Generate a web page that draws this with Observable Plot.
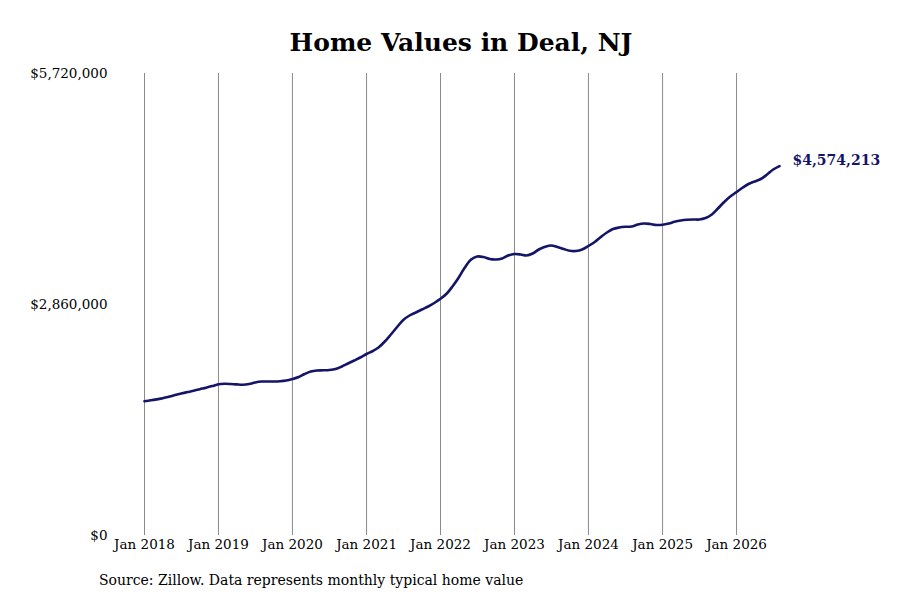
<!DOCTYPE html>
<html>
<head>
<meta charset="utf-8">
<script src="https://cdn.jsdelivr.net/npm/d3@7"></script>
<script src="https://cdn.jsdelivr.net/npm/@observablehq/plot@0.6"></script>
<style>
  body { margin: 0; background: #fff; width: 900px; height: 600px; overflow: hidden; font-family: "DejaVu Serif", serif; position: relative; }
  #title { height: 60px; text-align: center; font-weight: bold; font-size: 25px; color: #000; padding-top: 25px; padding-left: 22px; box-sizing: border-box; line-height: 36px; font-family: "DejaVu Serif", serif; }
  #chart { height: 510px; }
  #caption { position: absolute; left: 99px; top: 572px; font-size: 14px; color: #000; font-family: "DejaVu Serif", serif; }
</style>
</head>
<body>
<div id="title">Home Values in Deal, NJ</div>
<div id="chart"></div>
<div id="caption">Source: Zillow. Data represents monthly typical home value</div>
<script>
const startMonth = "2018-01";
const homeValues = [
  1662760, 1673900, 1685050, 1698670, 1718480, 1738290, 1756860, 1775430, 1792760, 1811330, 1829900, 1849710,
  1872000, 1878190, 1876000, 1870500, 1867000, 1875710, 1894290, 1906670, 1906670, 1906670, 1910380, 1919050,
  1937620, 1962380, 1999520, 2030480, 2042860, 2045330, 2049050, 2061430, 2092380, 2129520, 2166670, 2203810,
  2247140, 2284290, 2327620, 2401900, 2488570, 2581430, 2668100, 2723810, 2760950, 2798100, 2835240, 2878570,
  2930570, 2996190, 3082860, 3194290, 3318100, 3417140, 3454290, 3448100, 3423330, 3417140, 3429520, 3466670,
  3485240, 3479050, 3466670, 3491430, 3540950, 3574380, 3590480, 3571900, 3547140, 3524860, 3522380, 3540950,
  3584290, 3633810, 3693240, 3751430, 3794760, 3813330, 3822000, 3825710, 3850480, 3862860, 3856670, 3844290,
  3846760, 3862860, 3883900, 3900000, 3908670, 3912380, 3912380, 3930950, 3974290, 4048570, 4129050, 4197140,
  4252860, 4308570, 4351900, 4382860, 4413810, 4469520, 4531430, 4574213
];
const xTickLabels = ["Jan 2018","Jan 2019","Jan 2020","Jan 2021","Jan 2022","Jan 2023","Jan 2024","Jan 2025","Jan 2026"];
const yTicks = [0, 2860000, 5720000];

const parseMonth = d3.utcParse("%Y-%m");
const t0 = parseMonth(startMonth);
const data = homeValues.map((v, i) => ({date: d3.utcMonth.offset(t0, i), value: v}));
const tickDates = xTickLabels.map(s => d3.utcParse("%b %Y")(s));
const last = data[data.length - 1];
const lineColor = "#151568";

const chart = Plot.plot({
  width: 900,
  height: 510,
  marginLeft: 144,
  marginRight: 121,
  marginTop: 13,
  marginBottom: 35,
  style: {fontFamily: "'DejaVu Serif', serif", fontSize: "13.5px", color: "#000", background: "#fff"},
  x: {type: "utc", domain: [data[0].date, last.date]},
  y: {domain: [0, 5720000]},
  marks: [
    Plot.ruleX(tickDates, {x: d => d, y1: 0, y2: 5720000, stroke: "#8a8a8a", strokeWidth: 1, strokeOpacity: 1}),
    Plot.axisX({ticks: tickDates, tickSize: 0, tickPadding: 4, tickFormat: d3.utcFormat("%b %Y"), label: null, fontSize: 13.5}),
    Plot.axisY({ticks: yTicks, tickSize: 0, tickPadding: 37, tickFormat: d3.format("$,"), label: null, fontSize: 13.5}),
    Plot.line(data, {x: "date", y: "value", stroke: lineColor, strokeWidth: 2.6, curve: "catmull-rom"}),
    Plot.text([last], {x: "date", y: "value", text: d => d3.format("$,")(d.value), dx: 13, dy: -6, textAnchor: "start", fill: lineColor, fontWeight: "bold", fontSize: 14})
  ]
});
document.getElementById("chart").appendChild(chart);
</script>
</body>
</html>
